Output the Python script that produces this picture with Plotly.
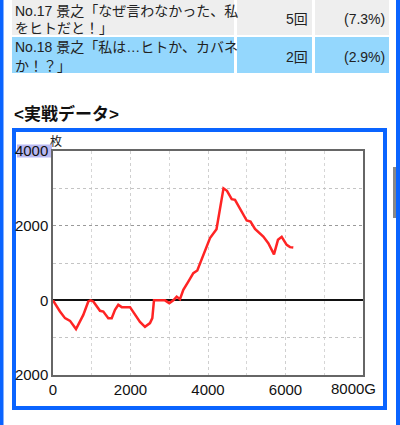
import plotly.graph_objects as go

# ---- data ----
games = [0, 180, 310, 440, 594, 782, 911, 973, 1040, 1213, 1298, 1427, 1515, 1600, 1685,
         1773, 1987, 2116, 2245, 2374, 2503, 2563, 2606, 2890, 3001, 3105, 3192, 3277,
         3363, 3492, 3621, 3724, 3837, 3923, 4052, 4219, 4400, 4490, 4612, 4697, 4852,
         4999, 5097, 5213, 5427, 5556, 5703, 5806, 5902, 6031, 6116, 6201]
coins = [0, -300, -477, -550, -770, -390, -30, 0, -30, -280, -300, -477, -477, -254, -120,
         -182, -182, -388, -576, -710, -610, -477, 0, 0, -75, 0, 100, 30,
         281, 504, 729, 798, 1085, 1353, 1666, 1907, 3000, 2933, 2711, 2692, 2398,
         2138, 2111, 1915, 1709, 1532, 1232, 1621, 1701, 1487, 1425, 1414]

x_tickvals = [0, 2000, 4000, 6000]
x_ticktext = ["0", "2000", "4000", "6000"]
y_tickvals = [-2000, 0, 2000, 4000]
y_ticktext = ["2000", "0", "2000", "4000"]

table_rows = [
    ("No.17 景之「なぜ言わなかった、私", "をヒトだと！」", "5回", "(7.3%)"),
    ("No.18 景之「私は…ヒトか、カバネ", "か！？」", "2回", "(2.9%)"),
]
heading = "<実戦データ>"

# ---- layout helpers (pixel -> paper) ----
W, H = 400, 425
L, R, T, B = 53, 37, 151, 50
PW, PH = W - L - R, H - T - B


def px(x):
    return (x - L) / PW


def py(y):
    return (H - B - y) / PH


FONT = "Liberation Sans, Arial, Noto Sans CJK JP, sans-serif"
JFONT = "Liberation Sans, Arial, Noto Sans CJK JP, sans-serif"
BLUE = "#0a64ff"

fig = go.Figure()
fig.add_trace(go.Scatter(x=games, y=coins, mode="lines",
                         line=dict(color="#ff2424", width=2.5),
                         hoverinfo="skip", showlegend=False))

shapes = []
annotations = []


def rect(x0, y0, x1, y1, fill=None, line=None, lw=0, layer="below"):
    d = dict(type="rect", xref="paper", yref="paper",
             x0=px(x0), x1=px(x1), y0=py(y1), y1=py(y0), layer=layer)
    d["fillcolor"] = fill if fill else "rgba(0,0,0,0)"
    d["line"] = dict(width=lw, color=line if line else "rgba(0,0,0,0)")
    shapes.append(d)


def text(x, y, s, size=14, anchor="left", bold=False, color="#222", family=JFONT):
    annotations.append(dict(xref="paper", yref="paper", x=px(x), y=py(y),
                            text=("<b>%s</b>" % s) if bold else s,
                            showarrow=False, xanchor=anchor, yanchor="middle",
                            font=dict(size=size, color=color, family=family)))


# table rows
row_specs = [(-5, 35, "#eeeeee", 11, 28, 19), (37, 73, "#94d7fd", 47, 66, 57)]
for (y0, y1, bg, l1, l2, lm), (t1, t2, cnt, pct) in zip(row_specs, table_rows):
    rect(12, y0, 234, y1, fill=bg)
    rect(237, y0, 312, y1, fill=bg)
    rect(315, y0, 389, y1, fill=bg)
    text(13, l1, t1, size=14)
    text(13, l2, t2, size=14)
    text(310, lm, cnt, size=14, anchor="right")
    text(387, lm, pct, size=14, anchor="right")

# heading
text(12, 114, heading, size=17, bold=True, color="#111")

# page side lines and scrollbar
rect(0, 0, 3.5, 425, fill=BLUE)
rect(396, 0, 400, 425, fill=BLUE)
rect(393, 167, 396, 218, fill="#888888")

# blue chart frame
rect(14, 130, 385, 408, line=BLUE, lw=4)

# highlight behind "4000"
rect(17, 144.5, 52, 157.5, fill="#b8b8f2")

# unit label and last x label
text(56, 141, "枚", size=12, anchor="center")
annotations.append(dict(xref="paper", yref="paper", x=px(378), y=py(388),
                        text="8000G", showarrow=False, xanchor="right", yanchor="middle",
                        font=dict(size=15, color="#111", family=FONT)))

fig.update_layout(
    width=W, height=H,
    margin=dict(l=L, r=R, t=T, b=B, pad=0),
    paper_bgcolor="white", plot_bgcolor="white",
    shapes=shapes, annotations=annotations,
    showlegend=False,
    xaxis=dict(range=[0, 8000], tickvals=x_tickvals, ticktext=x_ticktext,
               showgrid=True, gridcolor="#cfcfcf", griddash="dot", gridwidth=1,
               minor=dict(dtick=1000, tick0=0, showgrid=True, gridcolor="#d6d6d6",
                          griddash="dot", gridwidth=1),
               showline=True, mirror=True, linecolor="#666666", linewidth=1.5,
               zeroline=False, ticks="",
               tickfont=dict(size=15, color="#111", family=FONT), fixedrange=True),
    yaxis=dict(range=[-2000, 4000], tickvals=y_tickvals, ticktext=y_ticktext,
               showgrid=True, gridcolor="#9a9a9a", griddash="dot", gridwidth=1,
               minor=dict(dtick=1000, tick0=0, showgrid=True, gridcolor="#c4c4c4",
                          griddash="dot", gridwidth=1),
               showline=True, mirror=True, linecolor="#666666", linewidth=1.5,
               zeroline=True, zerolinecolor="#111111", zerolinewidth=1.5, ticks="",
               tickfont=dict(size=15, color="#111", family=FONT), fixedrange=True),
)

fig.write_html("out.html", config={"displayModeBar": False},
               post_script="document.body.style.margin='0px';")
